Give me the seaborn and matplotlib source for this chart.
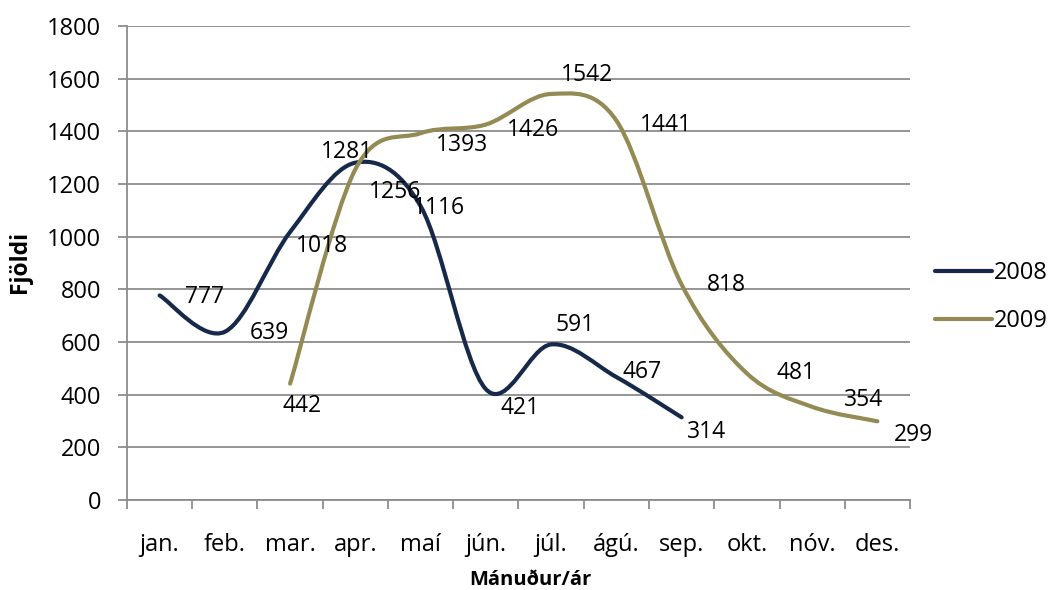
import matplotlib

matplotlib.use('Agg')
import numpy as np
import pandas as pd
import matplotlib.pyplot as plt
import seaborn as sns
from matplotlib.path import Path
from matplotlib.patches import PathPatch
from matplotlib.lines import Line2D

# ==========================================
# Gögn
# ==========================================
manudir = ['jan.', 'feb.', 'mar.', 'apr.', 'maí', 'jún.', 'júl.', 'ágú.',
           'sep.', 'okt.', 'nóv.', 'des.']
ar_2008 = [777, 639, 1018, 1281, 1116, 421, 591, 467, 314, None, None, None]
ar_2009 = [None, None, 442, 1256, 1393, 1426, 1542, 1441, 818, 481, 354, 299]

# staðsetning gildismerkja (pixlar frá punkti)
offs_2008 = [(45, -2), (45, -1), (32, -14), (-8, 11), (18, -2), (34, -19),
             (24, 19), (26, 5), (25, -15)]
offs_2009 = [(12, -22), (40, -23), (41, -12), (47, -5), (36, 19), (50, -4),
             (45, 0), (49, 0), (51, 7), (36, -14)]

LIT_2008 = '#17294a'
LIT_2009 = '#948a54'
GRID = '#8c8c8c'

df = pd.DataFrame({'manudur': manudir, '2008': ar_2008, '2009': ar_2009})

sns.set_theme(style='white')
plt.rcParams['font.family'] = ['Open Sans', 'DejaVu Sans']
plt.rcParams['text.color'] = 'black'
plt.rcParams['axes.labelcolor'] = 'black'
plt.rcParams['xtick.labelcolor'] = 'black'
plt.rcParams['ytick.labelcolor'] = 'black'

fig = plt.figure(figsize=(10.53, 5.90), dpi=100)
ax = fig.add_axes([0.1206, 0.1525, 0.8642 - 0.1206, 0.9559 - 0.1525])


def smooth_path(x, y):
    # Bezier ferill eins og "smoothed line" í Excel
    pts = np.column_stack([x, y])
    verts = [pts[0]]
    codes = [Path.MOVETO]
    n = len(pts)
    for i in range(n - 1):
        p0 = pts[i - 1] if i > 0 else pts[i]
        p1 = pts[i]
        p2 = pts[i + 1]
        p3 = pts[i + 2] if i + 2 < n else pts[i + 1]
        c1 = p1 + (p2 - p0) / 6.0
        c2 = p2 - (p3 - p1) / 6.0
        verts += [c1, c2, p2]
        codes += [Path.CURVE4] * 3
    return Path(verts, codes)


handles = []
for col, litur, offs in [('2008', LIT_2008, offs_2008), ('2009', LIT_2009, offs_2009)]:
    d = df[['manudur', col]].dropna()
    xs = np.array([manudir.index(m) for m in d['manudur']], dtype=float)
    ys = d[col].to_numpy(dtype=float)
    patch = PathPatch(smooth_path(xs, ys), facecolor='none', edgecolor=litur,
                      lw=3.0, capstyle='round', joinstyle='round', zorder=3)
    ax.add_patch(patch)
    for xv, yv, (dx, dy) in zip(xs, ys, offs):
        ax.annotate(f'{int(yv)}', (xv, yv), xytext=(dx, dy), textcoords='offset pixels',
                    ha='center', va='center', fontsize=16.5, color='black', zorder=4)
    handles.append(Line2D([], [], color=litur, lw=3.0, solid_capstyle='round', label=col))

ax.set_xlim(-0.5, 11.5)
ax.set_ylim(0, 1800)
ax.set_yticks(np.arange(0, 1801, 200))
ax.set_xticks(np.arange(12))
ax.set_xticklabels(manudir)
ax.set_xticks(np.arange(-0.5, 12, 1), minor=True)
ax.yaxis.grid(True, color=GRID, lw=1.3)
ax.set_axisbelow(True)

for s in ['top', 'right']:
    ax.spines[s].set_visible(False)
for s in ['left', 'bottom']:
    ax.spines[s].set_color(GRID)
    ax.spines[s].set_linewidth(1.3)

ax.tick_params(axis='y', which='major', length=6.5, width=1.3, color=GRID,
               labelsize=17, pad=12, left=True, labelcolor='black')
ax.tick_params(axis='x', which='major', length=0, labelsize=17, pad=24, labelcolor='black')
ax.tick_params(axis='x', which='minor', length=6.5, width=1.3, color=GRID, bottom=True)

ax.set_ylabel('Fjöldi', fontsize=16.5, fontweight='bold', color='black')
ax.set_xlabel('Mánuður/ár', fontsize=14.5, fontweight='bold', color='black')
ax.yaxis.set_label_coords(-0.121, 0.502)
ax.xaxis.set_label_coords(0.515, -0.148)

leg = fig.legend(handles=handles, loc='center left', bbox_to_anchor=(0.888, 0.4966),
                 frameon=False, fontsize=17, handlelength=2.4, handletextpad=0.1,
                 labelspacing=1.0, borderpad=0, borderaxespad=0)

fig.savefig('out.png', dpi=100)
plt.close(fig)
